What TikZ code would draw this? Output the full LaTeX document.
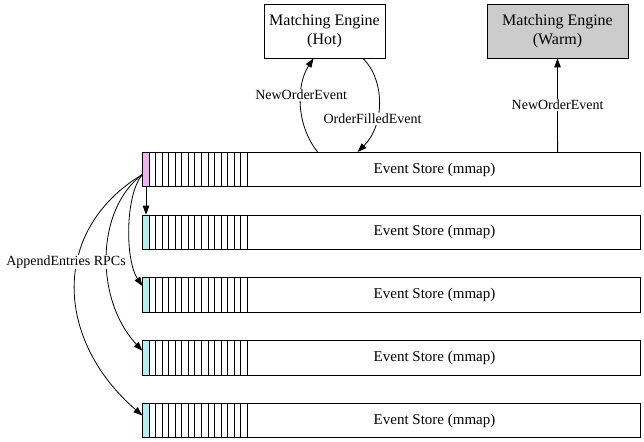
\documentclass[tikz,border=0pt]{standalone}
\usepackage{fontspec}
\setmainfont{Liberation Serif}
\usetikzlibrary{arrows.meta}
\definecolor{leadpink}{RGB}{240,178,240}
\definecolor{followcyan}{RGB}{178,240,240}
\definecolor{warmgray}{RGB}{204,204,204}

\begin{document}
\begin{tikzpicture}[x=1pt, y=-1pt, line width=0.8pt, every node/.style={font=\fontsize{14}{16}\selectfont}]
	\tikzset{engine/.style={draw, minimum height=54pt, align=center, inner sep=0pt, font=\fontsize{16}{19}\selectfont},
		logcell/.style={draw, minimum width=6.5pt, minimum height=34.3pt, inner sep=0pt},
		store/.style={draw, minimum width=393pt, minimum height=34.3pt, inner sep=0pt},
		storetext/.style={xshift=-9pt, font=\fontsize{15}{17}\selectfont},
		msg/.style={fill=white, inner sep=1pt},
		rpc/.style={-{Triangle[length=9pt,width=6.5pt]}}}
	\useasboundingbox (0,0) rectangle (644,441);
	\node[engine, minimum width=121pt] (hot) at (324.5,31) {Matching Engine\\(Hot)};
	\node[engine, minimum width=141pt, fill=warmgray] (warm) at (557.5,31) {Matching Engine\\(Warm)};
	\node[logcell, fill=leadpink]   (c1) at (146,169.5)  {};
	\node[logcell, fill=followcyan] (c2) at (146,232.25) {};
	\node[logcell, fill=followcyan] (c3) at (146,295)    {};
	\node[logcell, fill=followcyan] (c4) at (146,357.75) {};
	\node[logcell, fill=followcyan] (c5) at (146,420.5)  {};
	\node[store, label={[storetext]center:Event Store (mmap)}] (s1) at (443.5,169.5)  {};
	\node[store, label={[storetext]center:Event Store (mmap)}] (s2) at (443.5,232.25) {};
	\node[store, label={[storetext]center:Event Store (mmap)}] (s3) at (443.5,295)    {};
	\node[store, label={[storetext]center:Event Store (mmap)}] (s4) at (443.5,357.75) {};
	\node[store, label={[storetext]center:Event Store (mmap)}] (s5) at (443.5,420.5)  {};
	\foreach \y in {169.5,232.25,295,357.75,420.5}
		\foreach \k in {0,...,14}
			\draw (149.25+\k*6.517,\y-17.15) rectangle ++(6.517,34.3);
	\draw[rpc] ([xshift=71pt]s1.north west) .. controls (296,125) and (296,85) .. node[pos=0.6, msg] {NewOrderEvent} ([xshift=-11pt]hot.south);
	\draw[rpc] ([xshift=38.5pt]hot.south) .. controls (385,80) and (385,125) .. node[pos=0.65, msg, xshift=-4pt] {OrderFilledEvent} ([xshift=111pt]s1.north west);
	\draw[rpc] ([xshift=311pt]s1.north west) -- node[midway, msg] {NewOrderEvent} (warm.south);
	\draw[rpc] (c1.south) -- (c2.north);
	\draw[rpc] ([yshift=-5pt]c1.west) .. controls (125,195) and (125,260) .. ([yshift=9pt]c3.west);
	\draw[rpc] ([yshift=-5pt]c1.west) .. controls (95,210) and (95,300) .. ([yshift=7pt]c4.west);
	\draw[rpc] ([yshift=-5pt]c1.west) .. controls (50,230) and (55,340) .. ([yshift=5pt]c5.west);
	\node[msg] (rpcs) at (66,262) {AppendEntries RPCs};
\end{tikzpicture}
\end{document}
